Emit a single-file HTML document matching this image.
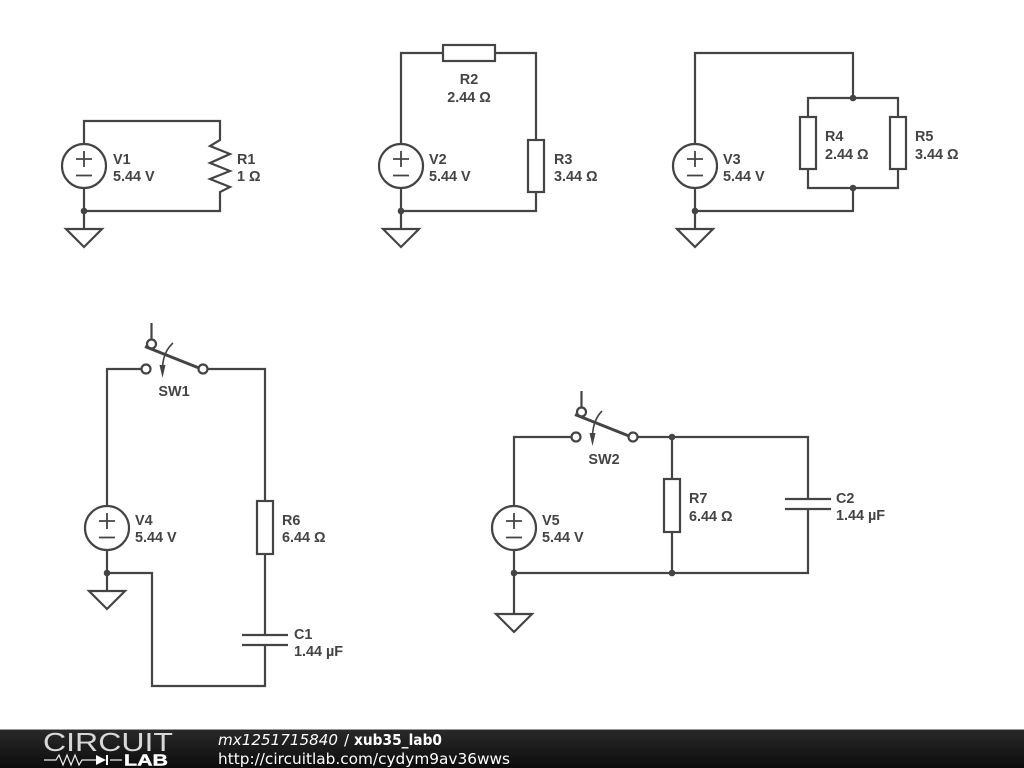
<!DOCTYPE html>
<html><head><meta charset="utf-8"><style>
html,body{margin:0;padding:0;background:#fff;width:1024px;height:768px;overflow:hidden}
svg{display:block}
.w{fill:none;stroke:#444;stroke-width:2.2}
.t{font-family:"Liberation Sans",sans-serif;font-weight:bold;font-size:14.4px;fill:#444}
.f{font-family:"DejaVu Sans",sans-serif;font-size:15px;fill:#fff}
</style></head><body>
<svg width="1024" height="768" viewBox="0 0 1024 768" xmlns="http://www.w3.org/2000/svg">
<defs>
<linearGradient id="g" x1="0" y1="0" x2="0" y2="1"><stop offset="0" stop-color="#2a2a2a"/><stop offset="1" stop-color="#0c0c0c"/></linearGradient>
</defs>
<rect width="1024" height="768" fill="#fff"/>
<g class="w">
<!-- Circuit 1 -->
<path d="M84 144V121H220V140L210 146L230 154L210 163L230 171L210 179L230 187L220 192V211H84M84 188V229"/>
<circle cx="84" cy="166" r="22"/><path d="M76 159H92M84 151V167M76 175.500H92" stroke-width="1.800"/>
<path d="M66 229H102L84 247Z"/>
<!-- Circuit 2 -->
<path d="M401 144V53H443M495 53H536V140M536 192V211H401M401 188V229"/>
<rect x="443" y="45" width="52" height="16"/><rect x="528" y="140" width="16" height="52"/>
<circle cx="401" cy="166" r="22"/><path d="M393 159H409M401 151V167M393 175.500H409" stroke-width="1.800"/>
<path d="M383 229H419L401 247Z"/>
<!-- Circuit 3 -->
<path d="M695 144V53H853V98M808 117V98H898V117M808 169V188H898V169M853 188V211H695M695 188V229"/>
<rect x="800" y="117" width="16" height="52"/><rect x="890" y="117" width="16" height="52"/>
<circle cx="695" cy="166" r="22"/><path d="M687 159H703M695 151V167M687 175.500H703" stroke-width="1.800"/>
<path d="M677 229H713L695 247Z"/>
<!-- Circuit 4 -->
<path d="M107 505V369H141.500M207.500 369H265V501M265 554V635M265 645V686H152V573H107M107 550V591"/>
<rect x="257" y="501" width="16" height="53"/>
<path d="M242 635H288M242 645H288"/>
<circle cx="107" cy="528" r="22"/><path d="M99 521H115M107 513V529M99 537.500H115" stroke-width="1.800"/>
<path d="M89 591H125L107 609Z"/>
<circle cx="146" cy="369" r="4.500"/><circle cx="203" cy="369" r="4.500"/>
<path d="M151.500 323V339.500"/><circle cx="151.500" cy="344" r="4.500"/>
<path d="M145 346.500L199 368" stroke-width="3"/>
<path d="M173 343Q163 352 162.500 368" stroke-width="1.600"/>
<!-- Circuit 5 -->
<path d="M514 505V437H571.500M637.500 437H808V499M808 509V573H514M514 550V614M672 437V479M672 532V573"/>
<rect x="664" y="479" width="16" height="53"/>
<path d="M785 499H831M785 509H831"/>
<circle cx="514" cy="528" r="22"/><path d="M506 521H522M514 513V529M506 537.500H522" stroke-width="1.800"/>
<path d="M496 614H532L514 632Z"/>
<circle cx="576" cy="437" r="4.500"/><circle cx="633" cy="437" r="4.500"/>
<path d="M581.500 391V407.500"/><circle cx="581.500" cy="412" r="4.500"/>
<path d="M575 414.500L629 436" stroke-width="3"/>
<path d="M602 411Q593 420 592.500 436" stroke-width="1.600"/>
</g>
<g fill="#444">
<path d="M159.500 365H165.500L162.500 378Z"/><path d="M589.500 433H595.500L592.500 446Z"/>
<circle cx="84" cy="211" r="3.300"/><circle cx="401" cy="211" r="3.300"/><circle cx="695" cy="211" r="3.300"/>
<circle cx="853" cy="98" r="3.300"/><circle cx="853" cy="188" r="3.300"/>
<circle cx="107" cy="573" r="3.300"/>
<circle cx="672" cy="437" r="3.300"/><circle cx="672" cy="573" r="3.300"/><circle cx="514" cy="573" r="3.300"/>
</g>
<g class="t">
<text x="113" y="164">V1</text><text x="113" y="181">5.44 V</text>
<text x="237" y="164">R1</text><text x="237" y="181">1 Ω</text>
<text x="469" y="84" text-anchor="middle">R2</text><text x="469" y="102" text-anchor="middle">2.44 Ω</text>
<text x="429" y="164">V2</text><text x="429" y="181">5.44 V</text>
<text x="554" y="164">R3</text><text x="554" y="181">3.44 Ω</text>
<text x="723" y="164">V3</text><text x="723" y="181">5.44 V</text>
<text x="825" y="141">R4</text><text x="825" y="159">2.44 Ω</text>
<text x="915" y="141">R5</text><text x="915" y="159">3.44 Ω</text>
<text x="174" y="396" text-anchor="middle">SW1</text>
<text x="135" y="525">V4</text><text x="135" y="542">5.44 V</text>
<text x="282" y="525">R6</text><text x="282" y="542">6.44 Ω</text>
<text x="294" y="639">C1</text><text x="294" y="656">1.44 µF</text>
<text x="604" y="464" text-anchor="middle">SW2</text>
<text x="542" y="525">V5</text><text x="542" y="542">5.44 V</text>
<text x="689" y="503">R7</text><text x="689" y="521">6.44 Ω</text>
<text x="836" y="503">C2</text><text x="836" y="520">1.44 µF</text>
</g>
<!-- Footer -->
<rect y="729" width="1024" height="39" fill="url(#g)"/>
<rect y="729" width="1024" height="1" fill="#999"/>
<text x="43" y="751" font-family="Liberation Sans,sans-serif" font-size="26" textLength="130" lengthAdjust="spacingAndGlyphs" fill="#d8d8d8">CIRCUIT</text>
<path d="M44 760H56L59 755L63 765L67 755L71 765L75 755L79 765L82 760H96M110 760H122" fill="none" stroke="#eee" stroke-width="1.200"/>
<path d="M96 755V765L106 760Z" fill="#fff"/><rect x="106" y="755" width="2" height="10" fill="#fff"/>
<text x="124" y="765.500" font-family="Liberation Sans,sans-serif" font-weight="bold" font-size="15.500" textLength="44" lengthAdjust="spacingAndGlyphs" fill="#fff" stroke="#fff" stroke-width="0.400">LAB</text>
<text class="f" x="218" y="745" font-style="italic" textLength="120" lengthAdjust="spacingAndGlyphs">mx1251715840</text>
<text class="f" x="344" y="745">/</text>
<text class="f" x="354" y="745" font-weight="bold" textLength="88" lengthAdjust="spacingAndGlyphs">xub35_lab0</text>
<text class="f" x="218" y="764" textLength="292" lengthAdjust="spacingAndGlyphs">http://circuitlab.com/cydym9av36wws</text>
</svg>
</body></html>
